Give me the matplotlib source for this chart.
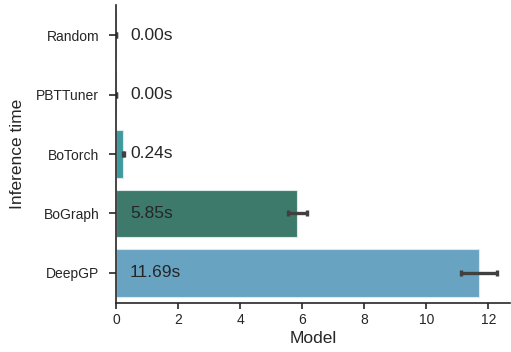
import matplotlib
matplotlib.use("Agg")
import matplotlib.pyplot as plt
import numpy as np

models = ["Random", "PBTTuner", "BoTorch", "BoGraph", "DeepGP"]
times = [0.001, 0.001, 0.24, 5.85, 11.69]
err_lo = [0.0, 0.0, 0.03, 0.30, 0.58]
err_hi = [0.0, 0.0, 0.03, 0.30, 0.58]
labels = ["0.00s", "0.00s", "0.24s", "5.85s", "11.69s"]
colors = ["#3f8f8a", "#3f8f8a", "#3e9a9c", "#3d7a6c", "#68a3c2"]

plt.rcParams["font.family"] = ["Liberation Sans", "DejaVu Sans"]
fig, ax = plt.subplots(figsize=(5.11, 3.52), dpi=100)
fig.subplots_adjust(left=0.227, right=0.998, top=0.985, bottom=0.14)

y = np.arange(len(models))
ax.barh(y, times, height=0.8, color=colors, edgecolor="#dde8e8", linewidth=0.8)
ax.errorbar(times, y, xerr=[err_lo, err_hi], fmt="none", ecolor="#404040",
            elinewidth=2.4, capsize=2, capthick=2.4)
for yi, lab in zip(y, labels):
    ax.text(0.45, yi, lab, va="center", ha="left", fontsize=12.5, color="#262626")

ax.set_yticks(y)
ax.set_yticklabels(models, fontsize=10, color="#262626")
ax.set_ylim(4.5, -0.5)
ax.set_xlim(0, 12.7)
ax.set_xticks([0, 2, 4, 6, 8, 10, 12])
ax.tick_params(axis="x", labelsize=10, colors="#262626", length=4, width=1.2)
ax.tick_params(axis="y", length=5, width=1.2, colors="#262626", pad=7)
ax.set_xlabel("Model", fontsize=12.5, color="#262626", labelpad=3)
ax.set_ylabel("Inference time", fontsize=12.5, color="#262626", labelpad=8)
for s in ["top", "right"]:
    ax.spines[s].set_visible(False)
for s in ["left", "bottom"]:
    ax.spines[s].set_linewidth(1.2)
    ax.spines[s].set_color("#262626")

fig.savefig("out.png", dpi=100)
